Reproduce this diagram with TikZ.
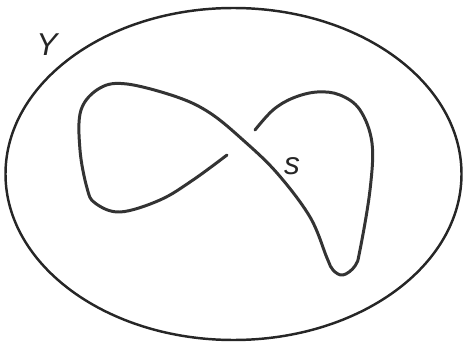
\documentclass[tikz,border=0pt]{standalone}
\usepackage{fontspec}
\setsansfont{Liberation Sans}
\begin{document}
\begin{tikzpicture}[
    x=0.02cm,
    y=-0.02cm,
    curveline/.style={
        line width=1.7pt,
        draw=black!80,
        line cap=round,
        line join=round
    },
    setlabel/.style={
        font=\sffamily\itshape\fontsize{18}{21}\selectfont,
        text=black!85
    }
]

\useasboundingbox (0,0) rectangle (466,348);

% Outer space
\draw[line width=1.4pt, draw=black!85] (233.5,174) ellipse [x radius=228, y radius=166];

% Immersed curve with the under-crossing gap
\draw[curveline] plot[smooth, tension=0.6] coordinates {
    (227,155) (193,180) (160,200) (120,212) (95,203) (87,188)
    (80,150) (81,110) (100,88) (127,84) (177,97) (210,113)
    (243,140) (277,173) (310,217) (327,258) (333,270) (343,275)
    (355,266) (360,250) (370,190) (372,143) (360,110) (340,95)
    (317,92) (293,98) (273,110) (255,130)
};

% Labels
\node[setlabel] (Ylabel) at (47,45) {Y};
\node[setlabel] (slabel) at (292,166) {s};

\end{tikzpicture}
\end{document}
